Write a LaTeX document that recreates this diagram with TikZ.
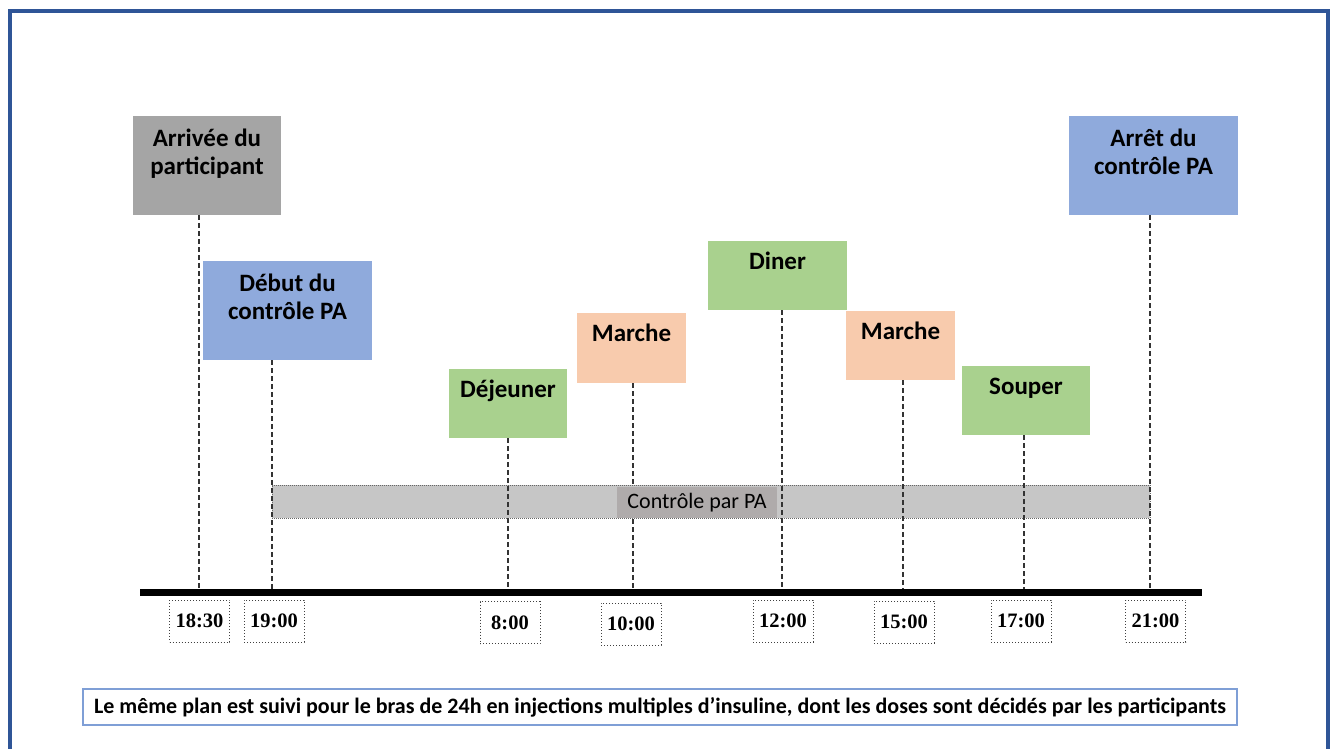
\documentclass[tikz,border=0pt]{standalone}
\usepackage{fontspec}
\setmainfont{Carlito}
\newfontfamily\timesf{Liberation Serif}
\definecolor{frameblue}{HTML}{2F5597}
\definecolor{boxgray}{HTML}{A5A5A5}
\definecolor{boxblue}{HTML}{8FAADC}
\definecolor{boxgreen}{HTML}{A9D18E}
\definecolor{boxpeach}{HTML}{F8CBAD}
\definecolor{barfill}{HTML}{C6C6C6}
\definecolor{lblfill}{HTML}{AFABAB}
\definecolor{noteblue}{HTML}{7F9FD6}
\tikzset{
  evtext/.style={anchor=base, align=center, inner sep=0pt, font=\fontsize{25}{28}\selectfont\bfseries},
  dashline/.style={draw=black!80, line width=1.2pt, dash pattern=on 5pt off 3pt},
  timebox/.style={draw=black!75, dotted, line width=1pt, minimum width=60pt, minimum height=42pt, inner sep=0pt, font=\timesf\fontsize{20.5}{22}\selectfont\bfseries},
}
\begin{document}
\begin{tikzpicture}[x=1pt,y=-1pt]
\useasboundingbox (0,0) rectangle (1335,749);
% outer frame
\draw[frameblue, line width=4pt] (10,762) -- (10,11) -- (1328,11) -- (1328,762);
% timeline coordinates
\coordinate (t1) at (199,592);
\coordinate (t2) at (272,592);
\coordinate (t3) at (508,592);
\coordinate (t4) at (633,592);
\coordinate (t5) at (782,592);
\coordinate (t6) at (903,592);
\coordinate (t7) at (1024,592);
\coordinate (t8) at (1150,592);
\coordinate (tl) at (140,592);
\coordinate (tr) at (1202,592);
% event boxes
\node[fill=boxgray, minimum width=148pt, minimum height=99pt, inner sep=0pt] (arr) at (207,165.5) {};
\node[evtext] at ([yshift=-59pt]arr.north) {Arrivée du\\participant};
\node[fill=boxblue, minimum width=169pt, minimum height=99pt, inner sep=0pt] (deb) at (287.5,310.5) {};
\node[evtext] at ([yshift=-59pt]deb.north) {Début du\\contrôle PA};
\node[fill=boxgreen, minimum width=118pt, minimum height=69pt, inner sep=0pt] (dej) at (508,403.5) {};
\node[evtext] at ([yshift=-29pt]dej.north) {Déjeuner};
\node[fill=boxpeach, minimum width=109pt, minimum height=70pt, inner sep=0pt] (mar1) at (631.5,348) {};
\node[evtext] at ([yshift=-29pt]mar1.north) {Marche};
\node[fill=boxgreen, minimum width=139pt, minimum height=69pt, inner sep=0pt] (din) at (777.5,275.5) {};
\node[evtext] at ([yshift=-29pt]din.north) {Diner};
\node[fill=boxpeach, minimum width=109pt, minimum height=69pt, inner sep=0pt] (mar2) at (900.5,345.5) {};
\node[evtext] at ([yshift=-29pt]mar2.north) {Marche};
\node[fill=boxgreen, minimum width=128pt, minimum height=69pt, inner sep=0pt] (sou) at (1026,400.5) {};
\node[evtext] at ([yshift=-29pt]sou.north) {Souper};
\node[fill=boxblue, minimum width=169pt, minimum height=99pt, inner sep=0pt] (arre) at (1153.5,165.5) {};
\node[evtext] at ([yshift=-59pt]arre.north) {Arrêt du\\contrôle PA};
% control bar
\node[fill=barfill, draw=black!60, densely dotted, line width=1pt, minimum width=878pt, minimum height=33pt, inner sep=0pt] (bar) at (711,501.5) {};
% dashed connectors
\draw[dashline] (arr.south -| t1) -- (t1);
\draw[dashline] (deb.south -| t2) -- (t2);
\draw[dashline] (dej.south -| t3) -- (t3);
\draw[dashline] (mar1.south -| t4) -- (t4);
\draw[dashline] (din.south -| t5) -- (t5);
\draw[dashline] (mar2.south -| t6) -- (t6);
\draw[dashline] (sou.south -| t7) -- (t7);
\draw[dashline] (arre.south -| t8) -- (t8);
\node[fill=lblfill, minimum width=160pt, minimum height=31pt, inner sep=0pt, font=\fontsize{22}{24}\selectfont] (barlbl) at (697,502.5) {Contrôle par PA};
% timeline
\draw[line width=7pt] (tl) -- (tr);
% time labels
\node[timebox] (h1) at (199.5,621) {18:30};
\node[timebox] (h2) at (274,621) {19:00};
\node[timebox] (h3) at (510,622.5) {8:00};
\node[timebox] (h4) at (631,624) {10:00};
\node[timebox] (h5) at (783,621) {12:00};
\node[timebox] (h6) at (904,622) {15:00};
\node[timebox] (h7) at (1021,621) {17:00};
\node[timebox] (h8) at (1155.5,621) {21:00};
% note
\node[draw=noteblue, line width=1.2pt, minimum width=1154pt, minimum height=36pt, inner sep=0pt, font=\fontsize{22}{24}\selectfont\bfseries] (note) at (660,707) {Le même plan est suivi pour le bras de 24h en injections multiples d’insuline, dont les doses sont décidés par les participants};
\end{tikzpicture}
\end{document}
